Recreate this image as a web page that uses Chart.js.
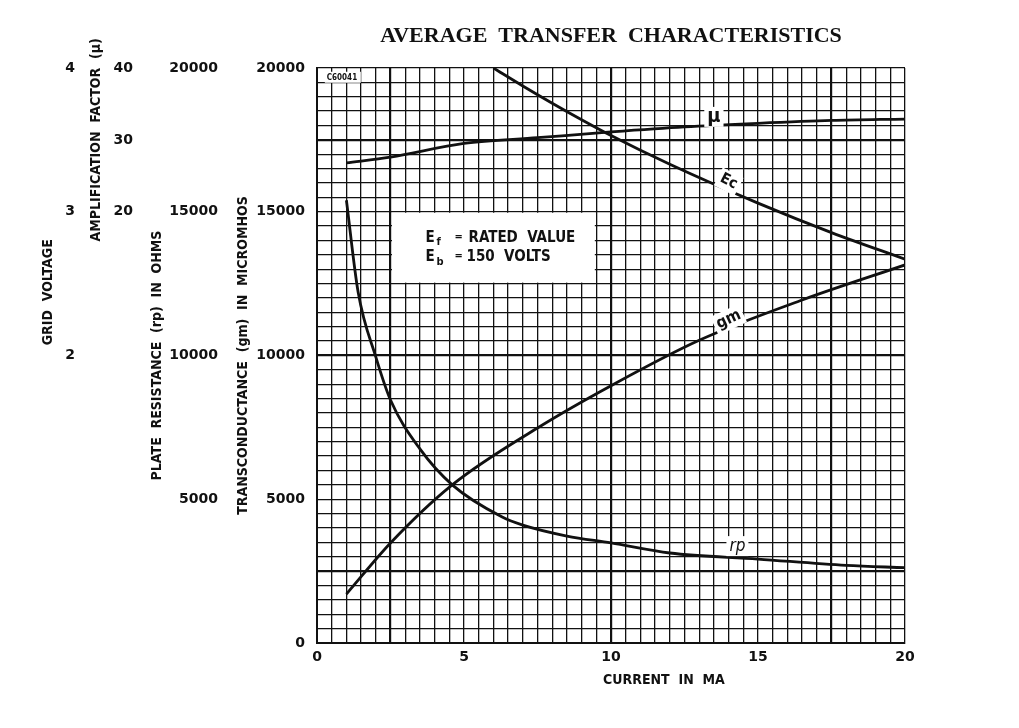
<!DOCTYPE html>
<html>
<head>
<meta charset="utf-8">
<title>Average Transfer Characteristics</title>
<script src="https://cdn.jsdelivr.net/npm/chart.js@4.4.1/dist/chart.umd.min.js"></script>
<style>
  body { margin: 0; background: #fff; }
  canvas { display: block; }
</style>
</head>
<body>
<canvas id="chart" width="1019" height="728"></canvas>
<script>
// values, current in mA
const muCurrent = [1, 2.5, 5, 7.5, 10, 12.5, 15, 17.5, 20];
const muValues  = [26.8, 27.6, 29.5, 30.3, 31.1, 31.8, 32.3, 32.7, 32.9];

const ecCurrent = [6, 7, 8, 9, 10, 12, 15, 17.5, 20];
const ecValues  = [4.0, 3.875, 3.755, 3.64, 3.53, 3.33, 3.06, 2.855, 2.67];

const gmCurrent = [1, 2.5, 4.6, 7.5, 10, 13, 16.5, 20];
const gmValues  = [1700, 3480, 5500, 7480, 8950, 10530, 11930, 13150];

const rpCurrent = [1, 1.4, 2, 2.5, 3.5, 4.6, 6.3, 7, 8.5, 10, 12, 15, 18, 20];
const rpValues  = [15400, 12200, 9950, 8450, 6750, 5500, 4380, 4100, 3720, 3480, 3130, 2920, 2700, 2620];

// tick labels printed on each axis
const currentTicks = [0, 5, 10, 15, 20];
const gmTicks = [0, 5000, 10000, 15000, 20000];
const rpTicks = [5000, 10000, 15000, 20000];
const muTicks = [20, 30, 40];
const ecTicks = [2, 3, 4];

// heavier rulings of the graph paper
const heavyCurrent = [2.5, 10, 17.5];
const heavyGm = [2500, 10000, 17500];

const INK = '#111';
const tickFont = { family: "'DejaVu Sans', sans-serif", size: 14, weight: 'bold' };
const letterFont = "'DejaVu Sans Condensed', 'Liberation Sans Narrow', sans-serif";

function points(xs, ys) {
  return xs.map((x, i) => ({ x: x, y: ys[i] }));
}

function curve(label, xs, ys, axis) {
  return {
    label: label,
    data: points(xs, ys),
    yAxisID: axis,
    borderColor: INK,
    borderWidth: 2.8,
    pointRadius: 0,
    cubicInterpolationMode: 'monotone',
    fill: false
  };
}

function onlyTicks(list) {
  return v => list.includes(v) ? String(v) : '';
}

function sideAxis(weight, width, min, max, step, list, pad) {
  return {
    type: 'linear',
    position: 'left',
    weight: weight,
    min: min,
    max: max,
    grid: { display: false, drawTicks: false },
    border: { display: false },
    ticks: { stepSize: step, autoSkip: false, color: INK, font: tickFont, padding: pad, callback: onlyTicks(list) },
    afterFit: s => { s.width = width; }
  };
}

// text drawn on a white patch so the rulings break behind it
function tag(ctx, text, px, py, angle, font) {
  ctx.save();
  ctx.translate(px, py);
  ctx.rotate(angle * Math.PI / 180);
  ctx.font = font;
  const w = ctx.measureText(text).width;
  ctx.fillStyle = '#fff';
  ctx.fillRect(-w / 2 - 3, -10, w + 6, 20);
  ctx.fillStyle = INK;
  ctx.textAlign = 'center';
  ctx.textBaseline = 'middle';
  ctx.fillText(text, 0, 0);
  ctx.restore();
}

function vertical(ctx, text, px, py) {
  ctx.save();
  ctx.translate(px, py);
  ctx.rotate(-Math.PI / 2);
  ctx.font = 'bold 14px ' + letterFont;
  ctx.fillStyle = INK;
  ctx.textAlign = 'center';
  ctx.textBaseline = 'middle';
  ctx.fillText(text, 0, 0);
  ctx.restore();
}

const annotations = {
  id: 'annotations',
  beforeDatasetsDraw(chart) {
    const { ctx, scales: { x, y } } = chart;
    ctx.save();
    // box with test conditions
    const left = x.getPixelForValue(2.5), right = x.getPixelForValue(9.5);
    const top = y.getPixelForValue(15000), bottom = y.getPixelForValue(12500);
    ctx.fillStyle = '#fff';
    ctx.fillRect(left + 1.5, top + 1, right - left - 3, bottom - top - 2);
    ctx.fillStyle = INK;
    ctx.textBaseline = 'alphabetic';
    const bx = left + 35;
    ctx.font = 'bold 15px ' + letterFont;
    ctx.fillText('E', bx, top + 30);
    ctx.fillText('RATED  VALUE', bx + 43, top + 30);
    ctx.fillText('E', bx, top + 49);
    ctx.fillText('150  VOLTS', bx + 41, top + 49);
    ctx.font = 'bold 11px ' + letterFont;
    ctx.fillText('f', bx + 11, top + 33);
    ctx.fillText('b', bx + 11, top + 53);
    ctx.fillText('=', bx + 29, top + 28);
    ctx.fillText('=', bx + 29, top + 47);
    // drawing number in the corner cell
    const cx = x.getPixelForValue(0.3), cy = y.getPixelForValue(19800);
    ctx.fillStyle = '#fff';
    ctx.fillRect(cx - 1, cy - 2, 36, 11);
    ctx.fillStyle = INK;
    ctx.font = 'bold 8px ' + letterFont;
    ctx.textBaseline = 'top';
    ctx.fillText('C60041', cx + 1, cy);
    ctx.restore();
  },
  afterDraw(chart) {
    const { ctx, chartArea, scales } = chart;
    const x = scales.x, y = scales.y;
    const mid = (chartArea.top + chartArea.bottom) / 2;
    // curve names
    tag(ctx, 'μ', x.getPixelForValue(13.5), y.getPixelForValue(18300), 0, 'bold 20px ' + letterFont);
    tag(ctx, 'Ec', x.getPixelForValue(14.0), y.getPixelForValue(16050), 27, 'bold 15px ' + letterFont);
    tag(ctx, 'gm', x.getPixelForValue(14.0), y.getPixelForValue(11250), -25, 'bold 16px ' + letterFont);
    tag(ctx, 'rp', x.getPixelForValue(14.3), y.getPixelForValue(3370), 0, 'italic 17px ' + letterFont);
    // axis names
    ctx.save();
    ctx.font = 'bold 14px ' + letterFont;
    ctx.fillStyle = INK;
    ctx.textAlign = 'center';
    ctx.textBaseline = 'middle';
    ctx.fillText('CURRENT  IN  MA', x.getPixelForValue(11.8), chartArea.bottom + 37);
    ctx.restore();
    vertical(ctx, 'TRANSCONDUCTANCE  (gm)  IN  MICROMHOS', y.left + 15, mid);
    vertical(ctx, 'PLATE  RESISTANCE  (rp)  IN  OHMS', scales.yRp.left + 17, mid);
    vertical(ctx, 'AMPLIFICATION  FACTOR  (μ)', scales.yMu.left + 11, y.getPixelForValue(17500));
    vertical(ctx, 'GRID  VOLTAGE', scales.yEc.left + 48, y.getPixelForValue(12200));
  }
};

const ctx = document.getElementById('chart').getContext('2d');
const chart = new Chart(ctx, {
  type: 'line',
  data: {
    datasets: [
      curve('μ', muCurrent, muValues, 'yMu'),
      curve('Ec', ecCurrent, ecValues, 'yEc'),
      curve('gm', gmCurrent, gmValues, 'y'),
      curve('rp', rpCurrent, rpValues, 'yRp')
    ]
  },
  options: {
    responsive: false,
    animation: false,
    layout: { padding: { left: 0, right: 114, top: 0, bottom: 45 } },
    plugins: {
      legend: { display: false },
      tooltip: { enabled: false },
      title: {
        display: true,
        text: 'AVERAGE  TRANSFER  CHARACTERISTICS',
        fullSize: false,
        color: INK,
        font: { family: "'Liberation Serif', serif", size: 22, weight: 'bold' },
        padding: { top: 23, bottom: 18.6 }
      }
    },
    scales: {
      x: {
        type: 'linear',
        position: 'bottom',
        min: 0,
        max: 20,
        grid: {
          color: INK,
          lineWidth: c => heavyCurrent.includes(c.tick && c.tick.value) ? 2.2 : 1.3,
          drawTicks: false
        },
        border: { display: true, color: INK, width: 2 },
        ticks: { stepSize: 0.5, autoSkip: false, maxRotation: 0, color: INK, font: tickFont, padding: 6, callback: onlyTicks(currentTicks) },
        afterFit: s => { s.height = 40; }
      },
      y: {
        type: 'linear',
        position: 'left',
        weight: 0,
        min: 0,
        max: 20000,
        grid: {
          color: INK,
          lineWidth: c => heavyGm.includes(c.tick && c.tick.value) ? 2.2 : 1.3,
          drawTicks: false
        },
        border: { display: true, color: INK, width: 2 },
        ticks: { stepSize: 500, autoSkip: false, color: INK, font: tickFont, padding: 12, callback: onlyTicks(gmTicks) },
        afterFit: s => { s.width = 89; }
      },
      yRp: sideAxis(1, 88, 0, 20000, 5000, rpTicks, 10),
      yMu: sideAxis(2, 55, -40, 40, 10, muTicks, 7),
      yEc: sideAxis(3, 85, 0, 4, 1, ecTicks, 10)
    }
  },
  plugins: [annotations]
});
</script>
</body>
</html>
